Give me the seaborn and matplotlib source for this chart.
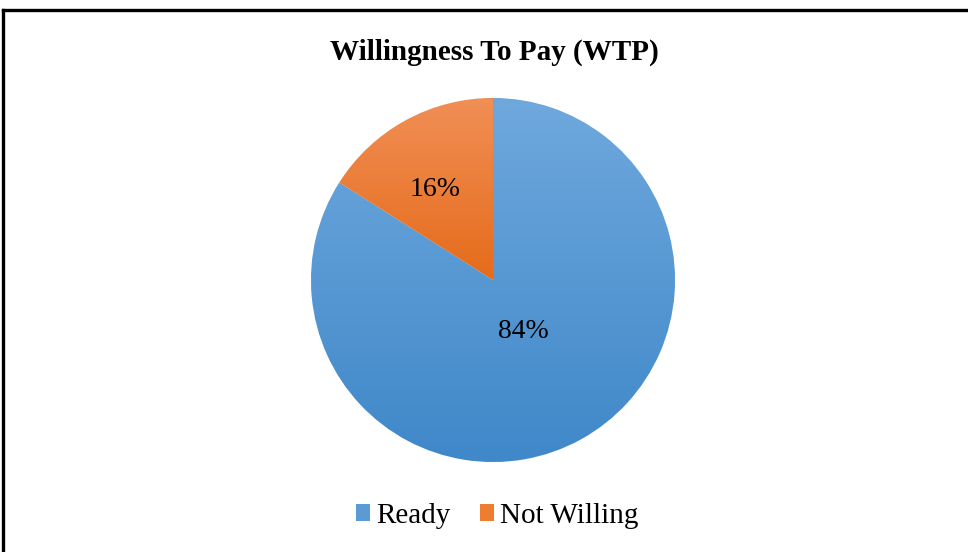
import matplotlib.pyplot as plt
import matplotlib.colors as mcolors
from matplotlib.lines import Line2D
from matplotlib.patches import Patch
import numpy as np
import seaborn as sns

sns.set_style("white")
plt.rcParams["font.family"] = ["Liberation Serif", "DejaVu Serif"]
plt.rcParams["text.color"] = "black"

LABELS = ["Ready", "Not Willing"]
SHARES = [84, 16]
TITLE = "Willingness To Pay (WTP)"

# light top / dark bottom gradient per slice, like the office chart
TOP_COLORS = ["#6FA8DD", "#F18F56"]
BOTTOM_COLORS = ["#3F88C9", "#E56B1A"]
BASE_COLORS = ["#5B9BD5", "#ED7D31"]
LABEL_DIST = [0.33, 0.59]

fig = plt.figure(figsize=(9.68, 5.52), dpi=100)
ax = fig.add_axes([311 / 968, 90 / 552, 364 / 968, 364 / 552])

wedges, texts, autotexts = ax.pie(
    SHARES, colors=BASE_COLORS, startangle=90, counterclock=False,
    autopct="%d%%", radius=1,
    wedgeprops=dict(edgecolor="white", linewidth=0.6),
    textprops=dict(fontsize=20, color="black"))
ax.axis("off")

for w, top, bot, dist, t in zip(wedges, TOP_COLORS, BOTTOM_COLORS, LABEL_DIST, autotexts):
    x0, y0, x1, y1 = w.get_path().get_extents(w.get_patch_transform()).extents
    cmap = mcolors.LinearSegmentedColormap.from_list("g", [bot, top])
    grad = np.linspace(0, 1, 256).reshape(-1, 1)
    im = ax.imshow(grad, cmap=cmap, extent=[x0, x1, y0, y1], origin="lower",
                   aspect="auto", zorder=w.get_zorder() + 0.1)
    im.set_clip_path(w)
    ang = np.deg2rad((w.theta1 + w.theta2) / 2 + (4 if dist > 0.5 else 2))
    t.set_position((dist * np.cos(ang), dist * np.sin(ang)))
    t.set_zorder(5)
ax.set_xlim(-1, 1)
ax.set_ylim(-1, 1)

fig.text(494 / 968, 1 - 52 / 552, TITLE, ha="center", va="center",
         fontsize=21, fontweight="bold", color="black")

handles = [Patch(facecolor=c, edgecolor="none") for c in BASE_COLORS]
leg = fig.legend(handles, LABELS, loc="center", bbox_to_anchor=(497 / 968, 1 - 516 / 552),
                 ncol=2, frameon=False, fontsize=21, handlelength=0.5, handleheight=0.5,
                 handletextpad=0.2, columnspacing=1.0)
for txt in leg.get_texts():
    txt.set_color("black")

# outer frame of the chart area (right and bottom edges fall outside the crop)
fig.add_artist(Line2D([3 / 968, 3 / 968], [0, 1 - 10 / 552], transform=fig.transFigure,
                      color="black", linewidth=2.4, solid_capstyle="projecting"))
fig.add_artist(Line2D([3 / 968, 1], [1 - 10 / 552, 1 - 10 / 552], transform=fig.transFigure,
                      color="black", linewidth=2.4, solid_capstyle="projecting"))

plt.savefig("out.png", dpi=100)
